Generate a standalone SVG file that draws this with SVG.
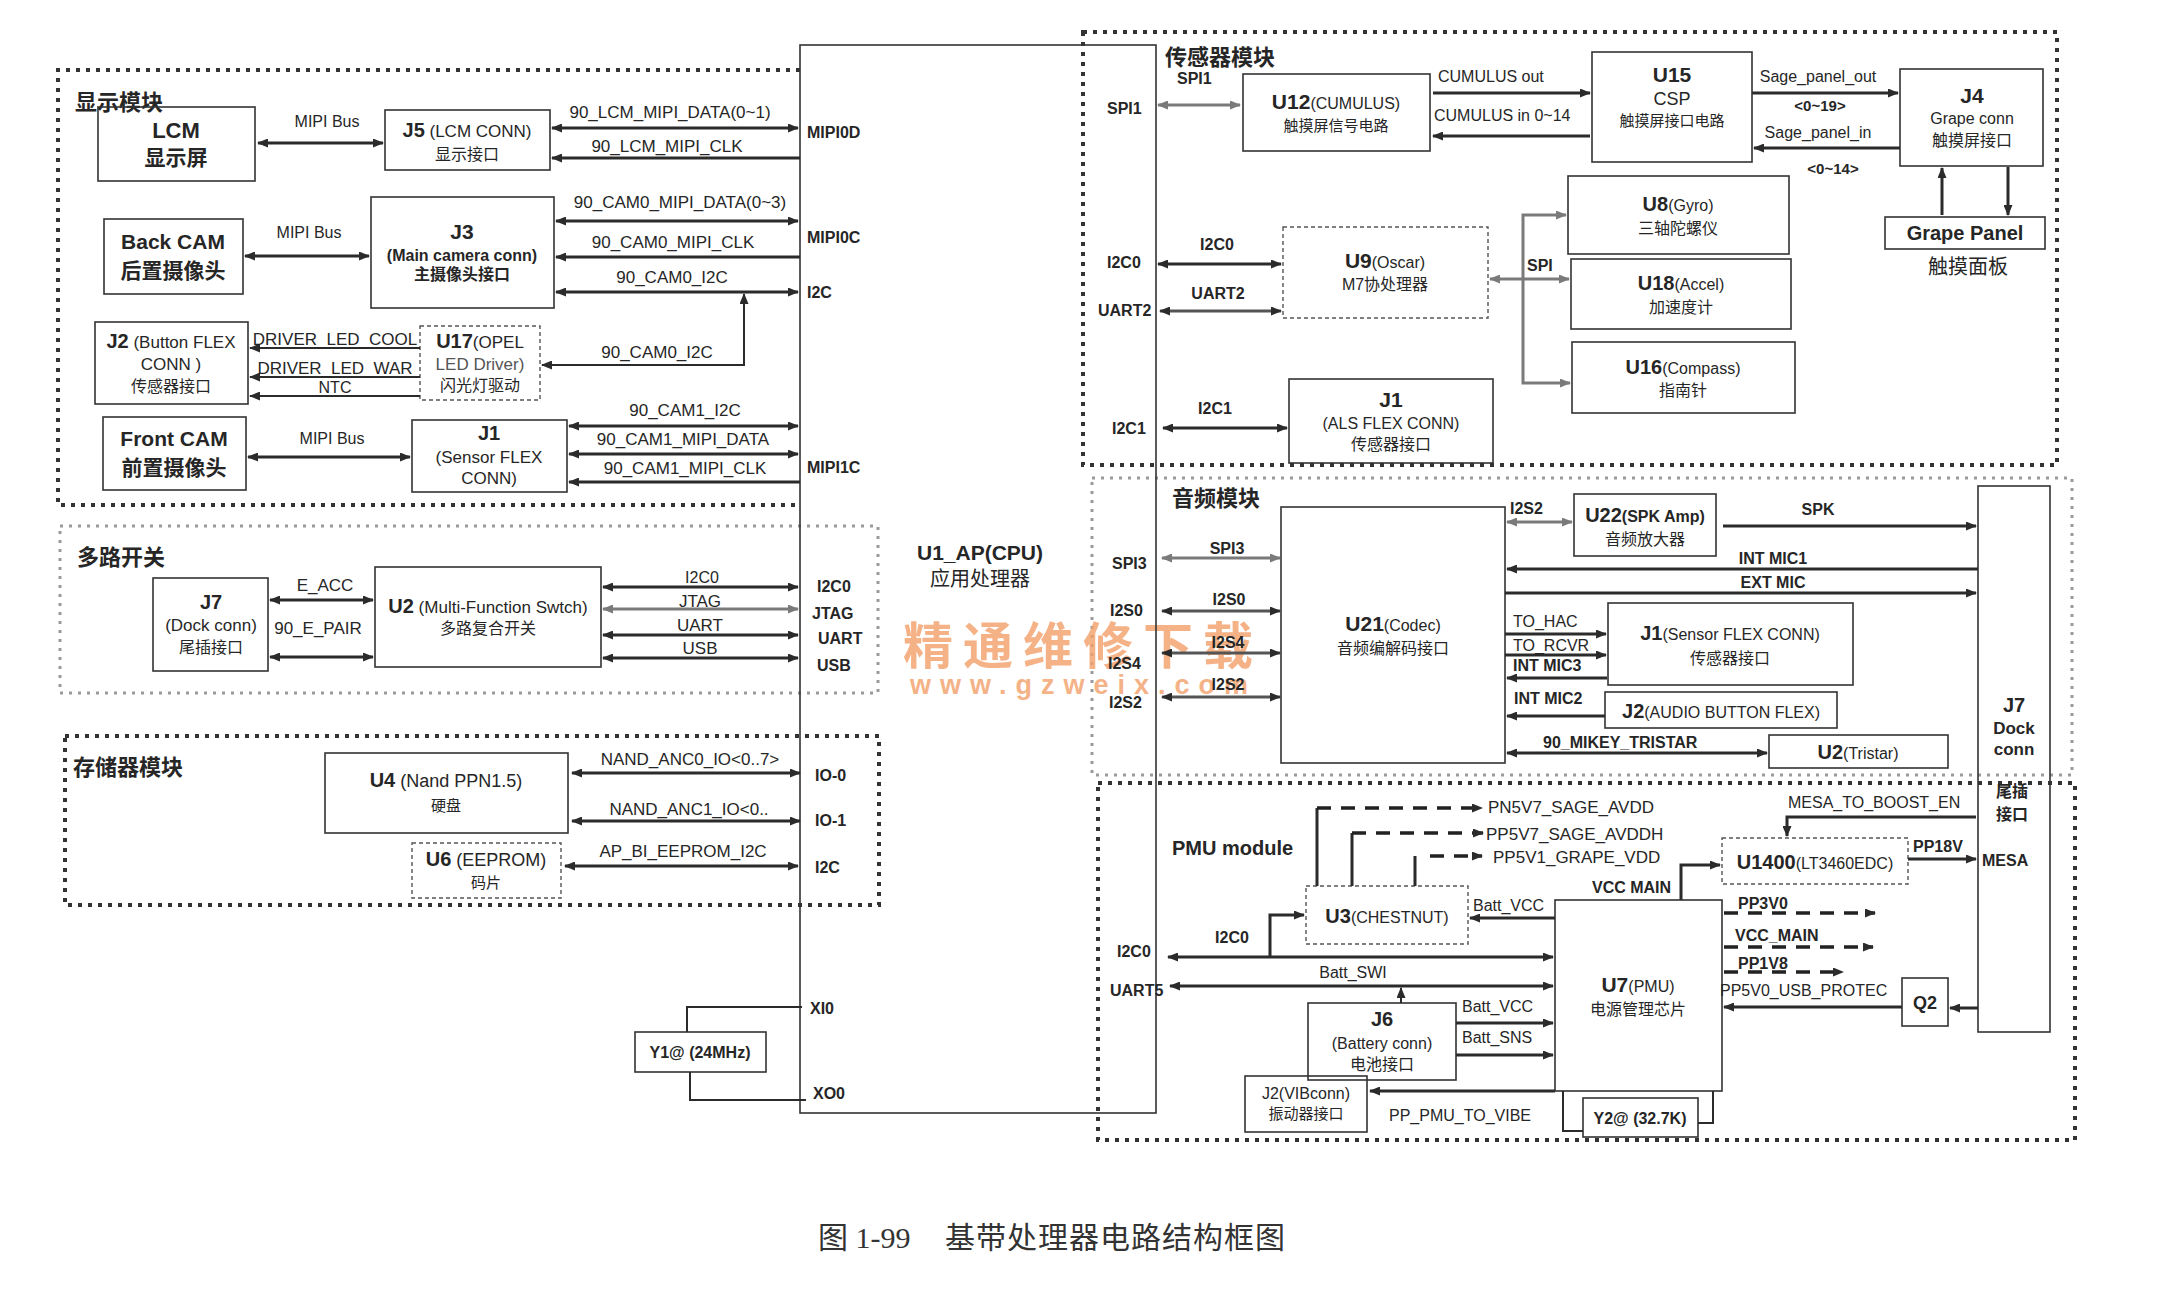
<svg xmlns="http://www.w3.org/2000/svg" width="2163" height="1311" viewBox="0 0 2163 1311">
<style>
text{font-family:"Liberation Sans","Noto Sans CJK SC",sans-serif;fill:#262626;font-size:16px}
.m{text-anchor:middle}
.b{font-weight:bold}
.f15{font-size:15px}.f17{font-size:17px}.f18{font-size:18px}.f20{font-size:20px}.f21{font-size:21px}.f22{font-size:22px}
.box{fill:none;stroke:#333;stroke-width:1.6}
.dbox{fill:none;stroke:#555;stroke-width:1.4;stroke-dasharray:4 3}
.mod{fill:none;stroke:#333;stroke-width:4;stroke-dasharray:4 6}
.modl{fill:none;stroke:#9a9a9a;stroke-width:3;stroke-dasharray:3 6}
.w{fill:none;stroke:#2b2b2b;stroke-width:3}
.wt{fill:none;stroke:#2b2b2b;stroke-width:2}
.wg{fill:none;stroke:#7a7a7a;stroke-width:3}
.ds{fill:none;stroke:#222;stroke-width:3.5;stroke-dasharray:14 10}
.cap{font-family:"Liberation Serif","Noto Sans CJK SC",serif;font-size:30px;fill:#333}
.wm{fill:#f3a06a;opacity:0.8;font-weight:bold}
</style>
<defs>
<marker id="a" viewBox="0 0 11 9" refX="10" refY="4.5" markerWidth="11" markerHeight="9" markerUnits="userSpaceOnUse" orient="auto-start-reverse"><path d="M0,0 L11,4.5 L0,9 z" fill="#2b2b2b"/></marker>
<marker id="ag" viewBox="0 0 11 9" refX="10" refY="4.5" markerWidth="11" markerHeight="9" markerUnits="userSpaceOnUse" orient="auto-start-reverse"><path d="M0,0 L11,4.5 L0,9 z" fill="#7a7a7a"/></marker>
</defs>
<rect width="2163" height="1311" fill="#fff"/>

<!-- module borders -->
<g id="mod-display"><path class="mod" d="M800,70 H58 V505 H800"/><text x="75" y="110" class="f22 b">显示模块</text></g>
<g id="mod-switch"><rect class="modl" x="60" y="526" width="818" height="167"/><text x="77" y="565" class="f22 b">多路开关</text></g>
<g id="mod-storage"><rect class="mod" x="65" y="736" width="814" height="169"/><text x="73" y="775" class="f22 b">存储器模块</text></g>
<g id="mod-sensor"><rect class="mod" x="1083" y="32" width="974" height="433"/><text x="1165" y="65" class="f22 b">传感器模块</text></g>
<g id="mod-audio"><rect class="modl" x="1092" y="478" width="980" height="297"/><text x="1172" y="506" class="f22 b">音频模块</text></g>
<g id="mod-pmu"><rect class="mod" x="1098" y="783" width="977" height="357"/><text x="1172" y="855" class="f20 b">PMU module</text></g>

<!-- watermark -->
<text x="903" y="664" class="wm" style="font-size:50px;letter-spacing:10px;font-family:'Noto Sans CJK SC',sans-serif">精通维修下载</text>
<text x="910" y="694" class="wm" style="font-size:27px;letter-spacing:9px">www.gzweix.com</text>

<!-- CPU -->
<g id="U1">
<rect class="box" x="800" y="45" width="356" height="1068"/>
<text x="980" y="560" class="m b f21">U1_AP(CPU)</text>
<text x="980" y="586" class="m f20">应用处理器</text>
<text x="807" y="138" class="b">MIPI0D</text>
<text x="807" y="243" class="b">MIPI0C</text>
<text x="807" y="298" class="b">I2C</text>
<text x="807" y="473" class="b">MIPI1C</text>
<text x="817" y="592" class="b">I2C0</text>
<text x="812" y="619" class="b">JTAG</text>
<text x="818" y="644" class="b">UART</text>
<text x="817" y="671" class="b">USB</text>
<text x="815" y="781" class="b">IO-0</text>
<text x="815" y="826" class="b">IO-1</text>
<text x="815" y="873" class="b">I2C</text>
<text x="810" y="1014" class="b">XI0</text>
<text x="813" y="1099" class="b">XO0</text>
<text x="1107" y="114" class="b">SPI1</text>
<text x="1107" y="268" class="b">I2C0</text>
<text x="1098" y="316" class="b">UART2</text>
<text x="1112" y="434" class="b">I2C1</text>
<text x="1112" y="569" class="b">SPI3</text>
<text x="1110" y="616" class="b">I2S0</text>
<text x="1108" y="669" class="b">I2S4</text>
<text x="1109" y="708" class="b">I2S2</text>
<text x="1117" y="957" class="b">I2C0</text>
<text x="1110" y="996" class="b">UART5</text>
</g>

<!-- display nodes -->
<g id="LCM"><rect class="box" x="98" y="107" width="157" height="74"/><text x="176" y="138" class="m b f22">LCM</text><text x="176" y="165" class="m b f21">显示屏</text></g>
<g id="J5"><rect class="box" x="385" y="110" width="165" height="60"/><text x="467" y="137" class="m f17"><tspan class="b f20">J5</tspan> (LCM CONN)</text><text x="467" y="160" class="m">显示接口</text></g>
<g id="BackCAM"><rect class="box" x="104" y="219" width="139" height="75"/><text x="173" y="249" class="m b f21">Back CAM</text><text x="173" y="278" class="m b f21">后置摄像头</text></g>
<g id="J3"><rect class="box" x="371" y="197" width="183" height="111"/><text x="462" y="239" class="m b f21">J3</text><text x="462" y="261" class="m b">(Main camera conn)</text><text x="462" y="280" class="m b">主摄像头接口</text></g>
<g id="J2btn"><rect class="box" x="95" y="322" width="153" height="82"/><text x="171" y="348" class="m f17"><tspan class="b f20">J2</tspan> (Button FLEX</text><text x="171" y="370" class="m f17">CONN )</text><text x="171" y="392" class="m">传感器接口</text></g>
<g id="U17"><rect class="dbox" x="420" y="326" width="120" height="74"/><text x="480" y="348" class="m f17"><tspan class="b f20">U17</tspan>(OPEL</text><text x="480" y="370" class="m f17" style="fill:#555">LED Driver)</text><text x="480" y="391" class="m">闪光灯驱动</text></g>
<g id="FrontCAM"><rect class="box" x="103" y="417" width="143" height="73"/><text x="174" y="446" class="m b f21">Front CAM</text><text x="174" y="475" class="m b f21">前置摄像头</text></g>
<g id="J1sns"><rect class="box" x="412" y="420" width="155" height="72"/><text x="489" y="440" class="m b f20">J1</text><text x="489" y="463" class="m f17">(Sensor FLEX</text><text x="489" y="484" class="m f17">CONN)</text></g>

<!-- switch / storage nodes -->
<g id="J7a"><rect class="box" x="153" y="578" width="115" height="93"/><text x="211" y="609" class="m b f20">J7</text><text x="211" y="631" class="m f17">(Dock conn)</text><text x="211" y="653" class="m">尾插接口</text></g>
<g id="U2sw"><rect class="box" x="375" y="567" width="226" height="100"/><text x="488" y="613" class="m f17"><tspan class="b f20">U2</tspan> (Multi-Function Swtch)</text><text x="488" y="634" class="m">多路复合开关</text></g>
<g id="U4"><rect class="box" x="325" y="753" width="243" height="80"/><text x="446" y="787" class="m f18"><tspan class="b f20">U4</tspan> (Nand PPN1.5)</text><text x="446" y="811" class="m f15">硬盘</text></g>
<g id="U6"><rect class="dbox" x="412" y="843" width="149" height="55"/><text x="486" y="866" class="m f18"><tspan class="b f20">U6</tspan> (EEPROM)</text><text x="486" y="888" class="m f15">码片</text></g>
<g id="Y1"><rect class="box" x="635" y="1032" width="131" height="40"/><text x="700" y="1058" class="m b">Y1@ (24MHz)</text></g>

<!-- sensor nodes -->
<g id="U12"><rect class="box" x="1243" y="74" width="187" height="77"/><text x="1336" y="109" class="m"><tspan class="b f21">U12</tspan>(CUMULUS)</text><text x="1336" y="131" class="m f15">触摸屏信号电路</text></g>
<g id="U15"><rect class="box" x="1592" y="52" width="160" height="110"/><text x="1672" y="82" class="m b f21">U15</text><text x="1672" y="105" class="m f18">CSP</text><text x="1672" y="126" class="m f15">触摸屏接口电路</text></g>
<g id="J4"><rect class="box" x="1900" y="69" width="143" height="97"/><text x="1972" y="103" class="m b f21">J4</text><text x="1972" y="124" class="m">Grape conn</text><text x="1972" y="146" class="m">触摸屏接口</text></g>
<g id="GrapePanel"><rect class="box" x="1885" y="217" width="160" height="32"/><text x="1965" y="240" class="m b f20">Grape Panel</text><text x="1968" y="274" class="m f20">触摸面板</text></g>
<g id="U8"><rect class="box" x="1568" y="176" width="221" height="78"/><text x="1678" y="211" class="m"><tspan class="b f20">U8</tspan>(Gyro)</text><text x="1678" y="234" class="m">三轴陀螺仪</text></g>
<g id="U18"><rect class="box" x="1571" y="259" width="220" height="70"/><text x="1681" y="290" class="m"><tspan class="b f20">U18</tspan>(Accel)</text><text x="1681" y="313" class="m">加速度计</text></g>
<g id="U16"><rect class="box" x="1572" y="342" width="223" height="71"/><text x="1683" y="374" class="m"><tspan class="b f20">U16</tspan>(Compass)</text><text x="1683" y="396" class="m">指南针</text></g>
<g id="U9"><rect class="dbox" x="1283" y="227" width="205" height="91"/><text x="1385" y="268" class="m"><tspan class="b f21">U9</tspan>(Oscar)</text><text x="1385" y="290" class="m">M7协处理器</text></g>
<g id="J1als"><rect class="box" x="1289" y="379" width="204" height="84"/><text x="1391" y="407" class="m b f21">J1</text><text x="1391" y="429" class="m">(ALS FLEX CONN)</text><text x="1391" y="450" class="m">传感器接口</text></g>

<!-- audio nodes -->
<g id="U21"><rect class="box" x="1281" y="507" width="224" height="256"/><text x="1393" y="631" class="m"><tspan class="b f21">U21</tspan>(Codec)</text><text x="1393" y="654" class="m">音频编解码接口</text></g>
<g id="U22"><rect class="box" x="1574" y="494" width="142" height="62"/><text x="1645" y="522" class="m b"><tspan class="f20">U22</tspan>(SPK Amp)</text><text x="1645" y="545" class="m">音频放大器</text></g>
<g id="J1flex"><rect class="box" x="1608" y="603" width="245" height="82"/><text x="1730" y="640" class="m"><tspan class="b f20">J1</tspan>(Sensor FLEX CONN)</text><text x="1730" y="664" class="m">传感器接口</text></g>
<g id="J2audio"><rect class="box" x="1605" y="692" width="232" height="36"/><text x="1721" y="718" class="m"><tspan class="b f20">J2</tspan>(AUDIO BUTTON FLEX)</text></g>
<g id="U2tri"><rect class="box" x="1769" y="735" width="179" height="33"/><text x="1858" y="759" class="m"><tspan class="b f20">U2</tspan>(Tristar)</text></g>
<g id="J7dock"><rect class="box" x="1978" y="486" width="72" height="546"/><text x="2014" y="712" class="m b f20">J7</text><text x="2014" y="734" class="m b f17">Dock</text><text x="2014" y="755" class="m b f17">conn</text><text x="2012" y="797" class="m b">尾插</text><text x="2012" y="820" class="m b">接口</text><text x="1982" y="866" class="b">MESA</text></g>

<!-- PMU nodes -->
<g id="U3"><rect class="dbox" x="1306" y="886" width="162" height="58"/><text x="1387" y="923" class="m"><tspan class="b f20">U3</tspan>(CHESTNUT)</text></g>
<g id="J6"><rect class="box" x="1308" y="1003" width="148" height="77"/><text x="1382" y="1026" class="m b f20">J6</text><text x="1382" y="1049" class="m">(Battery conn)</text><text x="1382" y="1070" class="m">电池接口</text></g>
<g id="J2vib"><rect class="box" x="1245" y="1076" width="122" height="56"/><text x="1306" y="1099" class="m">J2(VIBconn)</text><text x="1306" y="1119" class="m f15">振动器接口</text></g>
<g id="U7"><rect class="box" x="1555" y="900" width="167" height="191"/><text x="1638" y="992" class="m"><tspan class="b f21">U7</tspan>(PMU)</text><text x="1638" y="1015" class="m">电源管理芯片</text></g>
<g id="Y2"><rect class="box" x="1583" y="1098" width="115" height="39"/><text x="1640" y="1124" class="m b">Y2@ (32.7K)</text></g>
<g id="U1400"><rect class="dbox" x="1722" y="838" width="186" height="46"/><text x="1815" y="869" class="m"><tspan class="b f20">U1400</tspan>(LT3460EDC)</text></g>
<g id="Q2"><rect class="box" x="1902" y="978" width="46" height="48"/><text x="1925" y="1009" class="m b f18">Q2</text></g>

<!-- connectors -->
<g id="connectors">
<path class="w" d="M258,143 H383" marker-start="url(#a)" marker-end="url(#a)"/><text x="327" y="127" class="m">MIPI Bus</text>
<path class="w" d="M245,256 H369" marker-start="url(#a)" marker-end="url(#a)"/><text x="309" y="238" class="m">MIPI Bus</text>
<path class="w" d="M248,457 H410" marker-start="url(#a)" marker-end="url(#a)"/><text x="332" y="444" class="m">MIPI Bus</text>
<path class="wt" d="M420,348 H250" marker-end="url(#a)"/><text x="335" y="345" class="m f17">DRIVER_LED_COOL</text>
<path class="wt" d="M420,377 H250" marker-end="url(#a)"/><text x="335" y="374" class="m f17">DRIVER_LED_WAR</text>
<path class="wt" d="M420,396 H250" marker-end="url(#a)"/><text x="335" y="393" class="m">NTC</text>
<path class="w" d="M552,128 H798" marker-start="url(#a)" marker-end="url(#a)"/><text x="670" y="118" class="m f17">90_LCM_MIPI_DATA(0~1)</text>
<path class="w" d="M800,158 H552" marker-end="url(#a)"/><text x="667" y="152" class="m f17">90_LCM_MIPI_CLK</text>
<path class="w" d="M556,221 H798" marker-start="url(#a)" marker-end="url(#a)"/><text x="680" y="208" class="m f17">90_CAM0_MIPI_DATA(0~3)</text>
<path class="w" d="M800,257 H556" marker-end="url(#a)"/><text x="673" y="248" class="m f17">90_CAM0_MIPI_CLK</text>
<path class="w" d="M556,292 H798" marker-start="url(#a)" marker-end="url(#a)"/><text x="672" y="283" class="m f17">90_CAM0_I2C</text>
<path class="wt" d="M744,294 V365 H542" marker-start="url(#a)" marker-end="url(#a)"/><text x="657" y="358" class="m f17">90_CAM0_I2C</text>
<path class="w" d="M569,426 H798" marker-start="url(#a)" marker-end="url(#a)"/><text x="685" y="416" class="m f17">90_CAM1_I2C</text>
<path class="w" d="M569,454 H798" marker-start="url(#a)" marker-end="url(#a)"/><text x="683" y="445" class="m f17">90_CAM1_MIPI_DATA</text>
<path class="w" d="M800,482 H569" marker-end="url(#a)"/><text x="685" y="474" class="m f17">90_CAM1_MIPI_CLK</text>
<path class="w" d="M270,600 H373" marker-start="url(#a)" marker-end="url(#a)"/><text x="325" y="591" class="m f17">E_ACC</text>
<path class="w" d="M270,657 H373" marker-start="url(#a)" marker-end="url(#a)"/><text x="318" y="634" class="m f17">90_E_PAIR</text>
<path class="w" d="M603,587 H798" marker-start="url(#a)" marker-end="url(#a)"/><text x="702" y="583" class="m">I2C0</text>
<path class="wg" d="M603,609 H798" stroke-width="2" marker-start="url(#ag)" marker-end="url(#ag)"/><text x="700" y="607" class="m f17">JTAG</text>
<path class="w" d="M603,635 H798" marker-start="url(#a)" marker-end="url(#a)"/><text x="700" y="631" class="m f17">UART</text>
<path class="w" d="M603,658 H798" marker-start="url(#a)" marker-end="url(#a)"/><text x="700" y="654" class="m f17">USB</text>
<path class="w" d="M572,773 H800" marker-start="url(#a)" marker-end="url(#a)"/><text x="690" y="765" class="m f17">NAND_ANC0_IO&lt;0..7&gt;</text>
<path class="w" d="M572,821 H800" marker-start="url(#a)" marker-end="url(#a)"/><text x="689" y="815" class="m f17">NAND_ANC1_IO&lt;0..</text>
<path class="w" d="M565,866 H798" marker-start="url(#a)" marker-end="url(#a)"/><text x="683" y="857" class="m f17">AP_BI_EEPROM_I2C</text>
<path class="wt" d="M687,1032 V1007 H802"/>
<path class="wt" d="M690,1072 V1100 H806"/>
<path class="wg" d="M1158,105 H1240" marker-start="url(#ag)" marker-end="url(#ag)"/><text x="1177" y="84" class="b">SPI1</text>
<path class="w" d="M1433,93 H1590" marker-end="url(#a)"/><text x="1438" y="82">CUMULUS  out</text>
<path class="w" d="M1590,136 H1433" marker-end="url(#a)"/><text x="1434" y="121">CUMULUS  in 0~14</text>
<path class="w" d="M1752,93 H1898" marker-end="url(#a)"/><text x="1818" y="82" class="m">Sage_panel_out</text><text x="1820" y="111" class="m b f15">&lt;0~19&gt;</text>
<path class="w" d="M1900,148 H1754" marker-end="url(#a)"/><text x="1818" y="138" class="m">Sage_panel_in</text><text x="1833" y="174" class="m b f15">&lt;0~14&gt;</text>
<path class="w" d="M1942,215 V168" marker-end="url(#a)"/>
<path class="w" d="M2008,167 V215" marker-end="url(#a)"/>
<path class="w" d="M1158,264 H1281" marker-start="url(#a)" marker-end="url(#a)"/><text x="1217" y="250" class="m b">I2C0</text>
<path class="w" d="M1160,311 H1281" style="stroke:#555" marker-start="url(#a)" marker-end="url(#a)"/><text x="1218" y="299" class="m b">UART2</text>
<path class="wg" d="M1490,279 H1569" marker-start="url(#ag)" marker-end="url(#ag)"/>
<path class="wg" d="M1566,215 H1523 V383 H1570" marker-start="url(#ag)" marker-end="url(#ag)"/>
<text x="1527" y="271" class="b">SPI</text>
<path class="w" d="M1163,428 H1287" marker-start="url(#a)" marker-end="url(#a)"/><text x="1215" y="414" class="m b">I2C1</text>
<path class="wg" d="M1162,558 H1280" marker-start="url(#ag)" marker-end="url(#ag)"/><text x="1227" y="554" class="m b">SPI3</text>
<path class="w" d="M1162,611 H1280" style="stroke:#555" marker-start="url(#a)" marker-end="url(#a)"/><text x="1229" y="605" class="m b">I2S0</text>
<path class="w" d="M1162,653 H1280" style="stroke:#555" marker-start="url(#a)" marker-end="url(#a)"/><text x="1228" y="648" class="m b">I2S4</text>
<path class="w" d="M1162,697 H1280" style="stroke:#555" marker-start="url(#a)" marker-end="url(#a)"/><text x="1228" y="690" class="m b">I2S2</text>
<path class="wg" d="M1507,522 H1572" marker-start="url(#ag)" marker-end="url(#ag)"/><text x="1510" y="514" class="b">I2S2</text>
<path class="w" d="M1723,526 H1976" marker-end="url(#a)"/><text x="1818" y="515" class="m b">SPK</text>
<path class="w" d="M1978,569 H1507" marker-end="url(#a)"/><text x="1773" y="564" class="m b">INT MIC1</text>
<path class="w" d="M1505,593 H1976" marker-end="url(#a)"/><text x="1773" y="588" class="m b">EXT  MIC</text>
<path class="w" d="M1505,634 H1606" marker-end="url(#a)"/><text x="1513" y="627">TO_HAC</text>
<path class="w" d="M1505,655 H1606" marker-end="url(#a)"/><text x="1513" y="651">TO_RCVR</text>
<path class="w" d="M1607,678 H1507" marker-end="url(#a)"/><text x="1513" y="671" class="b">INT MIC3</text>
<path class="w" d="M1605,716 H1507" marker-end="url(#a)"/><text x="1514" y="704" class="b">INT MIC2</text>
<path class="w" d="M1507,753 H1767" marker-start="url(#a)" marker-end="url(#a)"/><text x="1543" y="748" class="b">90_MIKEY_TRISTAR</text>
<path class="w" d="M1168,957 H1553" marker-start="url(#a)" marker-end="url(#a)"/><text x="1232" y="943" class="m b">I2C0</text>
<path class="w" d="M1270,957 V915 H1304" marker-end="url(#a)"/>
<path class="w" d="M1555,918 H1470" marker-end="url(#a)"/><text x="1473" y="911">Batt_VCC</text>
<path class="w" d="M1317,886 V808" stroke-width="3.5"/><path class="ds" d="M1317,808 H1482" marker-end="url(#a)"/><text x="1488" y="813" class="f17">PN5V7_SAGE_AVDD</text>
<path class="w" d="M1352,886 V833" stroke-width="3.5"/><path class="ds" d="M1352,833 H1483" marker-end="url(#a)"/><text x="1486" y="840" class="f17">PP5V7_SAGE_AVDDH</text>
<path class="w" d="M1415,886 V856" stroke-width="3.5"/><path class="ds" d="M1430,856 H1482" marker-end="url(#a)"/><text x="1493" y="863" class="f17">PP5V1_GRAPE_VDD</text>
<path class="w" d="M1170,986 H1553" marker-start="url(#a)" marker-end="url(#a)"/><text x="1353" y="978" class="m">Batt_SWI</text>
<path class="wt" d="M1401,1003 V988" marker-end="url(#a)"/>
<path class="w" d="M1456,1023 H1553" marker-end="url(#a)"/><text x="1462" y="1012">Batt_VCC</text>
<path class="w" d="M1456,1055 H1553" marker-end="url(#a)"/><text x="1462" y="1043">Batt_SNS</text>
<path class="w" d="M1555,1091 H1370" marker-end="url(#a)"/><text x="1460" y="1121" class="m">PP_PMU_TO_VIBE</text>
<path class="wt" d="M1563,1091 V1131 H1583"/>
<path class="wt" d="M1713,1091 V1123 H1698"/>
<path class="w" d="M1681,900 V865 H1720" marker-end="url(#a)"/><text x="1592" y="893" class="b">VCC  MAIN</text>
<path class="w" d="M1976,817 H1787 V836" marker-end="url(#a)"/><text x="1788" y="808">MESA_TO_BOOST_EN</text>
<path class="w" d="M1908,859 H1976" marker-end="url(#a)"/><text x="1913" y="852" class="b">PP18V</text>
<path class="ds" d="M1724,913 H1875" marker-end="url(#a)"/><text x="1738" y="909" class="b">PP3V0</text>
<path class="ds" d="M1724,947 H1873" marker-end="url(#a)"/><text x="1735" y="941" class="b">VCC_MAIN</text>
<path class="ds" d="M1724,972 H1843" marker-end="url(#a)"/><text x="1738" y="969" class="b">PP1V8</text>
<path class="w" d="M1902,1007 H1724" marker-end="url(#a)"/><text x="1720" y="996">PP5V0_USB_PROTEC</text>
<path class="w" d="M1978,1008 H1950" marker-end="url(#a)"/>
</g>

<!-- caption -->
<text x="818" y="1248" class="cap">图 1-99</text>
<text x="945" y="1248" class="cap" style="letter-spacing:1px">基带处理器电路结构框图</text>
</svg>
